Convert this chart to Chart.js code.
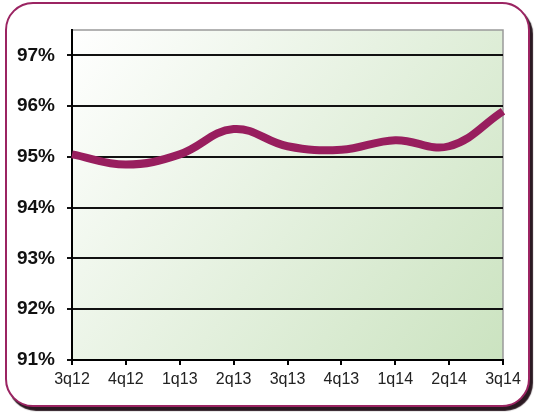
<!DOCTYPE html>
<html>
<head>
<meta charset="utf-8">
<script src="https://cdn.jsdelivr.net/npm/chart.js@4/dist/chart.umd.min.js"></script>
<style>
  html, body { margin: 0; padding: 0; background: #ffffff; }
  #frame {
    position: absolute; left: 5px; top: 2px; width: 521px; height: 401px;
    border: 2px solid #9b2462; border-radius: 28px;
    box-shadow: 3px 4px 1px rgba(20,0,10,0.9);
    background: #ffffff;
  }
  #wrap { position: absolute; left: 0; top: 0; width: 537px; height: 412px; }
</style>
</head>
<body>
<div id="frame"></div>
<div id="wrap"><canvas id="c" width="537" height="412"></canvas></div>
<script>
const categories = ["3q12", "4q12", "1q13", "2q13", "3q13", "4q13", "1q14", "2q14", "3q14"];
const values = [95.05, 94.85, 95.05, 95.55, 95.21, 95.14, 95.33, 95.21, 95.9];
const yTicks = [91, 92, 93, 94, 95, 96, 97];
const yMin = 91, yMax = 97.5;

const bgPlugin = {
  id: 'plotbg',
  beforeDraw(chart) {
    const { ctx, chartArea: a } = chart;
    const g = ctx.createLinearGradient(a.left, a.top, a.right, a.bottom);
    g.addColorStop(0, '#ffffff');
    g.addColorStop(1, '#cbe3c0');
    ctx.save();
    ctx.fillStyle = g;
    ctx.fillRect(a.left, a.top, a.right - a.left, a.bottom - a.top);
    ctx.strokeStyle = '#9a9a9a';
    ctx.lineWidth = 1.5;
    ctx.beginPath();
    ctx.moveTo(a.left, a.top);
    ctx.lineTo(a.right, a.top);
    ctx.lineTo(a.right, a.bottom);
    ctx.stroke();
    ctx.restore();
  }
};

new Chart(document.getElementById('c'), {
  type: 'line',
  data: {
    labels: categories,
    datasets: [{
      data: values,
      borderColor: '#981e5e',
      borderWidth: 8,
      pointRadius: 0,
      tension: 0.4,
      fill: false
    }]
  },
  options: {
    responsive: false,
    animation: false,
    devicePixelRatio: 1,
    layout: { padding: { top: 30, right: 34, left: 0, bottom: 0 } },
    plugins: { legend: { display: false }, tooltip: { enabled: false } },
    scales: {
      x: {
        offset: false,
        grid: { drawOnChartArea: false, color: '#000', tickLength: 5, lineWidth: 2 },
        border: { color: '#000', width: 2 },
        ticks: { color: '#222', font: { family: 'Arial, "Liberation Sans"', size: 16 }, padding: 5, maxRotation: 0, autoSkip: false },
        afterFit(s) { s.height = 52; }
      },
      y: {
        min: yMin, max: yMax,
        afterBuildTicks(s) { s.ticks = yTicks.map(v => ({ value: v })); },
        grid: { color: '#111', lineWidth: 2, tickLength: 5 },
        border: { color: '#000', width: 2 },
        ticks: {
          color: '#111',
          font: { family: 'Arial, "Liberation Sans"', size: 19, weight: 'bold' },
          padding: 12,
          callback: v => v + '%'
        },
        afterFit(s) { s.width = 72; }
      }
    }
  },
  plugins: [bgPlugin]
});
</script>
</body>
</html>
